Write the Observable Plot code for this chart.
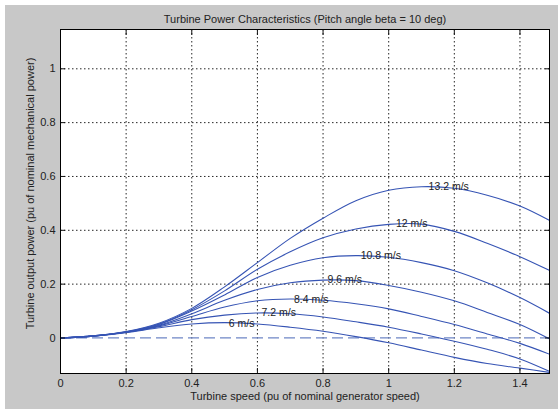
<!DOCTYPE html>
<html>
<head>
<meta charset="utf-8">
<script src="https://cdn.jsdelivr.net/npm/d3@7"></script>
<script src="https://cdn.jsdelivr.net/npm/@observablehq/plot@0.6"></script>
<style>
  html, body { margin: 0; padding: 0; background: #ffffff; }
  #chart { padding-left: 5px; padding-top: 5px; width: 553px; height: 404px; }
  #chart svg { display: block; }
</style>
</head>
<body>
<div id="chart"></div>
<script>
// Turbine speed samples (pu of nominal generator speed)
const speed = [0, 0.1, 0.2, 0.3, 0.4, 0.5, 0.6, 0.7, 0.8, 0.9, 1.0, 1.1, 1.2, 1.3, 1.4, 1.5];

// Wind speed labels
const windLabels = ["6 m/s", "7.2 m/s", "8.4 m/s", "9.6 m/s", "10.8 m/s", "12 m/s", "13.2 m/s"];

// Output power (pu) per wind speed
const p6   = [0, 0.007, 0.020, 0.038, 0.052, 0.057, 0.052, 0.040, 0.025, 0.005, -0.018, -0.045, -0.072, -0.095, -0.112, -0.130];
const p7_2 = [0, 0.007, 0.021, 0.042, 0.068, 0.085, 0.093, 0.090, 0.078, 0.060, 0.040, 0.015, -0.012, -0.042, -0.078, -0.130];
const p8_4 = [0, 0.007, 0.021, 0.045, 0.080, 0.115, 0.138, 0.145, 0.140, 0.127, 0.108, 0.080, 0.050, 0.015, -0.020, -0.065];
const p9_6 = [0, 0.007, 0.022, 0.047, 0.090, 0.140, 0.180, 0.205, 0.215, 0.213, 0.195, 0.170, 0.138, 0.095, 0.050, -0.010];
const p10_8 = [0, 0.008, 0.022, 0.050, 0.100, 0.160, 0.225, 0.270, 0.298, 0.306, 0.300, 0.280, 0.250, 0.205, 0.150, 0.085];
const p12  = [0, 0.008, 0.023, 0.052, 0.105, 0.175, 0.255, 0.320, 0.372, 0.405, 0.422, 0.423, 0.396, 0.352, 0.302, 0.245];
const p13_2 = [0, 0.008, 0.024, 0.055, 0.110, 0.190, 0.280, 0.370, 0.445, 0.510, 0.549, 0.562, 0.556, 0.530, 0.490, 0.430];

// Label anchor positions on each curve
const labelX = [0.552, 0.665, 0.764, 0.866, 0.976, 1.07, 1.183];
const labelY = [0.053, 0.093, 0.144, 0.215, 0.306, 0.424, 0.561];

const xTicks = [0, 0.2, 0.4, 0.6, 0.8, 1, 1.2, 1.4];
const yTicks = [0, 0.2, 0.4, 0.6, 0.8, 1];
const yGrid = [0.2, 0.4, 0.6, 0.8, 1];

const titleText = "Turbine Power Characteristics (Pitch angle beta = 10 deg)";
const xLabel = "Turbine speed (pu of nominal generator speed)";
const yLabel = "Turbine output power (pu of nominal mechanical power)";

const series = [p6, p7_2, p8_4, p9_6, p10_8, p12, p13_2];
const rows = [];
series.forEach((s, i) => s.forEach((v, j) => rows.push({wind: windLabels[i], x: speed[j], y: v})));
const labels = windLabels.map((w, i) => ({text: w, x: labelX[i], y: labelY[i]}));

const lineColor = "#3654b4";
const font = "Liberation Sans, Arial, sans-serif";

const chart = Plot.plot({
  width: 553,
  height: 404,
  marginLeft: 55,
  marginRight: 9,
  marginTop: 24,
  marginBottom: 36,
  style: {background: "#c8c8c8", fontFamily: font, fontSize: "11px", color: "#111"},
  x: {domain: [0, 1.49]},
  y: {domain: [-0.132, 1.146]},
  marks: [
    Plot.frame({fill: "white", stroke: null}),
    Plot.gridX(xTicks, {stroke: "#000", strokeOpacity: 0.85, strokeDasharray: "1.5,2.5"}),
    Plot.gridY(yGrid, {stroke: "#000", strokeOpacity: 0.85, strokeDasharray: "1.5,2.5"}),
    Plot.ruleY([0], {stroke: "#6f86c6", strokeWidth: 1.2, strokeDasharray: "11,5"}),
    Plot.line(rows, {x: "x", y: "y", z: "wind", stroke: lineColor, strokeWidth: 1.1, curve: "catmull-rom", clip: true}),
    Plot.text(labels, {x: "x", y: "y", text: "text", fill: "#222", fontSize: 10.5}),
    Plot.axisX(xTicks, {anchor: "bottom", tickSize: 0, tickPadding: 6, tickFormat: d3.format("~g"), label: null, fill: "#222"}),
    Plot.axisX(xTicks, {anchor: "bottom", tickSize: -5, text: null, label: null}),
    Plot.axisX(xTicks, {anchor: "top", tickSize: -5, text: null, label: null}),
    Plot.axisY(yTicks, {anchor: "left", tickSize: 0, tickPadding: 5, tickFormat: d3.format("~g"), label: null, fill: "#222"}),
    Plot.axisY(yTicks, {anchor: "left", tickSize: -5, text: null, label: null}),
    Plot.axisY(yTicks, {anchor: "right", tickSize: -5, text: null, label: null}),
    Plot.frame({stroke: "#000", strokeWidth: 1}),
    Plot.text([titleText], {frameAnchor: "top", dy: -10, fill: "#222", fontSize: 11, lineAnchor: "middle"}),
    Plot.text([xLabel], {frameAnchor: "bottom", dy: 23, fill: "#222", fontSize: 11, lineAnchor: "middle"}),
    Plot.text([yLabel], {frameAnchor: "left", rotate: -90, textAnchor: "middle", lineAnchor: "middle", dx: -30, dy: -8, fill: "#222", fontSize: 11})
  ]
});
document.getElementById("chart").appendChild(chart);
</script>
</body>
</html>
